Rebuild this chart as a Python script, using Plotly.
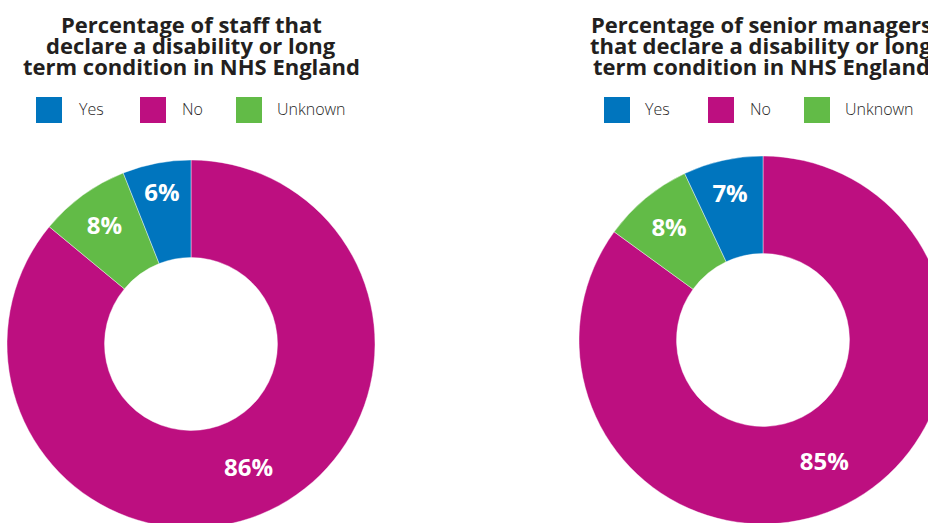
import plotly.graph_objects as go

# Disability declaration figures, NHS England
categories = ["Yes", "No", "Unknown"]
staff_pct = [6, 86, 8]
senior_pct = [7, 85, 8]
colors = {"Yes": "#0075BE", "No": "#BD0F80", "Unknown": "#62BB47"}

titles = [
    ["Percentage of staff that", "declare a disability or long", "term condition in NHS England"],
    ["Percentage of senior managers", "that declare a disability or long", "term condition in NHS England"],
]

# slices run clockwise from 12 o'clock in this order
slice_order = ["No", "Unknown", "Yes"]

W, H = 960, 530  # canvas slightly larger than the view; right/bottom edges get cropped


def px(x):
    return x / W


def py(y):
    return 1 - y / H


panels = [
    dict(values=staff_pct, cx=191, cy=344, r=184, tx=191,
         boxes=[36, 140, 236], texts=[77, 180, 275]),
    dict(values=senior_pct, cx=763, cy=340, r=184, tx=761,
         boxes=[604, 708, 804], texts=[643, 748, 843]),
]

fig = go.Figure()
annotations = []
shapes = []

for p, title_lines in zip(panels, titles):
    lookup = dict(zip(categories, p["values"]))
    fig.add_trace(go.Pie(
        labels=slice_order,
        values=[lookup[c] for c in slice_order],
        marker=dict(colors=[colors[c] for c in slice_order],
                    line=dict(width=0.6, color="rgba(255,255,255,0.7)")),
        hole=0.47,
        sort=False,
        direction="clockwise",
        rotation=0,
        textinfo="text",
        texttemplate="%{value}%",
        textposition="inside",
        insidetextorientation="horizontal",
        insidetextfont=dict(family="Open Sans", size=24, color="white", weight=700),
        hoverinfo="skip",
        showlegend=False,
        domain=dict(x=[px(p["cx"] - p["r"]), px(p["cx"] + p["r"])],
                    y=[py(p["cy"] + p["r"]), py(p["cy"] - p["r"])]),
    ))

    for line, yy in zip(title_lines, [24, 45, 66]):
        annotations.append(dict(
            text=line, x=px(p["tx"]), y=py(yy), xref="paper", yref="paper",
            xanchor="center", yanchor="middle", showarrow=False,
            font=dict(family="Open Sans", size=22, color="#231F20", weight=700),
        ))

    for cat, bx, tx in zip(categories, p["boxes"], p["texts"]):
        shapes.append(dict(
            type="rect", xref="paper", yref="paper",
            x0=px(bx), x1=px(bx + 26), y0=py(123), y1=py(97),
            fillcolor=colors[cat], line=dict(width=0),
        ))
        annotations.append(dict(
            text=cat, x=px(tx), y=py(109), xref="paper", yref="paper",
            xanchor="left", yanchor="middle", showarrow=False,
            font=dict(family="Open Sans", size=16, color="#262626", weight=300),
        ))

fig.update_layout(
    width=W, height=H,
    margin=dict(l=0, r=0, t=0, b=0),
    paper_bgcolor="white", plot_bgcolor="white",
    annotations=annotations, shapes=shapes,
    showlegend=False,
)

fig.write_html(
    "out.html",
    config={"displayModeBar": False},
    post_script="document.documentElement.style.overflow='hidden';document.body.style.overflow='hidden';document.body.style.margin='0';",
)
